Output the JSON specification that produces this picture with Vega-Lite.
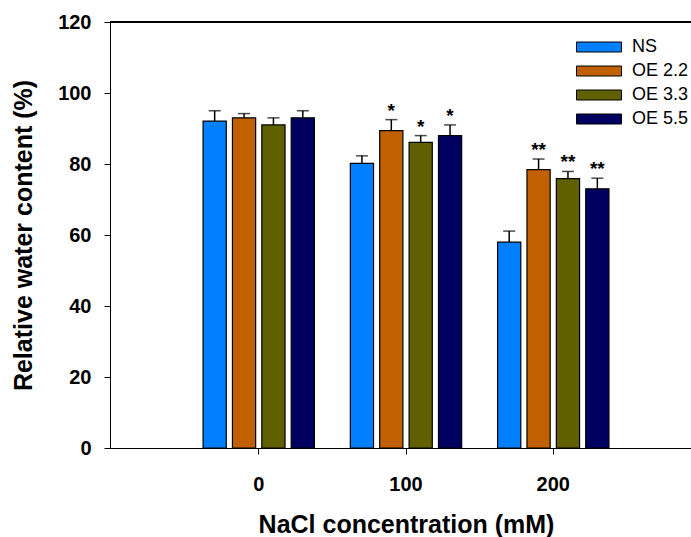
{
  "$schema": "https://vega.github.io/schema/vega-lite/v6.json",
  "width": 581,
  "height": 426,
  "autosize": {"type": "none"},
  "padding": {"left": 110, "top": 22, "right": 0, "bottom": 89},
  "background": "white",
  "config": {
    "font": "Liberation Sans",
    "view": {"stroke": null},
    "axis": {"domain": true, "domainColor": "#000", "domainWidth": 1, "grid": false, "tickColor": "#000", "tickSize": 6, "labelColor": "#000", "titleColor": "#000", "labelFont": "Liberation Sans", "titleFont": "Liberation Sans", "labelFontWeight": "bold", "titleFontWeight": "bold", "labelFontSize": 20, "titleFontSize": 25}
  },
  "data": {
    "values": [
      {"nacl": "0", "g": "NS", "v": 92.1, "hi": 95.0, "sig": ""},
      {"nacl": "0", "g": "OE 2.2", "v": 93.0, "hi": 94.2, "sig": ""},
      {"nacl": "0", "g": "OE 3.3", "v": 91.0, "hi": 93.0, "sig": ""},
      {"nacl": "0", "g": "OE 5.5", "v": 93.0, "hi": 95.0, "sig": ""},
      {"nacl": "100", "g": "NS", "v": 80.2, "hi": 82.3, "sig": ""},
      {"nacl": "100", "g": "OE 2.2", "v": 89.4, "hi": 92.5, "sig": "*"},
      {"nacl": "100", "g": "OE 3.3", "v": 86.1, "hi": 88.0, "sig": "*"},
      {"nacl": "100", "g": "OE 5.5", "v": 88.0, "hi": 91.0, "sig": "*"},
      {"nacl": "200", "g": "NS", "v": 58.0, "hi": 61.1, "sig": ""},
      {"nacl": "200", "g": "OE 2.2", "v": 78.4, "hi": 81.4, "sig": "**"},
      {"nacl": "200", "g": "OE 3.3", "v": 75.9, "hi": 77.9, "sig": "**"},
      {"nacl": "200", "g": "OE 5.5", "v": 73.0, "hi": 76.0, "sig": "**"}
    ]
  },
  "layer": [
    {
      "mark": {"type": "rule", "color": "#000", "strokeWidth": 1},
      "encoding": {
        "y": {"datum": 120, "type": "quantitative"}
      }
    },
    {
      "mark": {"type": "rule", "color": "#000", "strokeWidth": 1.5},
      "encoding": {
        "x": {"field": "nacl", "type": "ordinal", "sort": ["0", "100", "200"],
          "scale": {"range": [0, 592], "paddingInner": 0.2, "paddingOuter": 0.61},
          "axis": {"title": "NaCl concentration (mM)", "labelAngle": 0, "labelPadding": 20, "titlePadding": 18}},
        "xOffset": {"field": "g", "type": "nominal", "sort": ["NS", "OE 2.2", "OE 3.3", "OE 5.5"],
          "scale": {"paddingInner": 0.21, "paddingOuter": 0.11}},
        "y": {"field": "v", "type": "quantitative"},
        "y2": {"field": "hi"}
      }
    },
    {
      "mark": {"type": "tick", "orient": "horizontal", "color": "#000", "size": 12, "thickness": 1.5},
      "encoding": {
        "x": {"field": "nacl", "type": "ordinal", "sort": ["0", "100", "200"]},
        "xOffset": {"field": "g", "type": "nominal", "sort": ["NS", "OE 2.2", "OE 3.3", "OE 5.5"]},
        "y": {"field": "hi", "type": "quantitative"}
      }
    },
    {
      "mark": {"type": "bar", "stroke": "#000", "strokeWidth": 1.2},
      "encoding": {
        "x": {"field": "nacl", "type": "ordinal", "sort": ["0", "100", "200"]},
        "xOffset": {"field": "g", "type": "nominal", "sort": ["NS", "OE 2.2", "OE 3.3", "OE 5.5"]},
        "y": {"field": "v", "type": "quantitative",
          "scale": {"domain": [0, 120], "nice": false},
          "axis": {"title": "Relative water content (%)", "values": [0, 20, 40, 60, 80, 100, 120], "labelPadding": 13, "titlePadding": 21}},
        "color": {"field": "g", "type": "nominal",
          "scale": {"domain": ["NS", "OE 2.2", "OE 3.3", "OE 5.5"], "range": ["#0080FF", "#C06000", "#606000", "#000060"]},
          "legend": {"title": null, "orient": "none", "legendX": 480, "legendY": 16,
            "symbolType": "M-4.5,-1H4.5V1H-4.5Z", "symbolSize": 100, "symbolStrokeColor": "#000", "symbolStrokeWidth": 1, "symbolOpacity": 1,
            "labelFontSize": 18, "labelFont": "Liberation Sans", "labelColor": "#000", "labelOffset": 24, "rowPadding": 6}}
      }
    },
    {
      "mark": {"type": "text", "baseline": "alphabetic", "dy": -3, "fontSize": 19, "fontWeight": "bold", "color": "#000"},
      "encoding": {
        "x": {"field": "nacl", "type": "ordinal", "sort": ["0", "100", "200"]},
        "xOffset": {"field": "g", "type": "nominal", "sort": ["NS", "OE 2.2", "OE 3.3", "OE 5.5"]},
        "y": {"field": "hi", "type": "quantitative"},
        "text": {"field": "sig"}
      }
    }
  ]
}
